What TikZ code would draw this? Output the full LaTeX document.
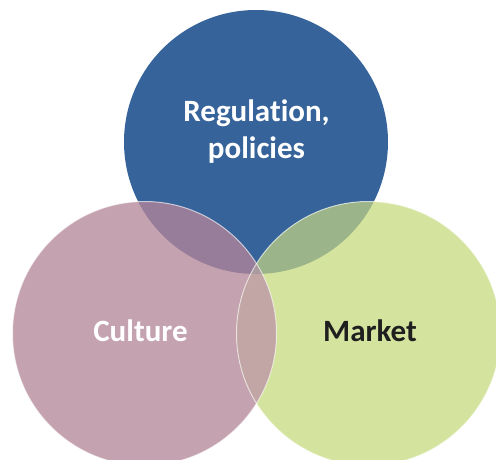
\documentclass[tikz,border=0pt]{standalone}
\usepackage{fontspec}
\setmainfont{Carlito}[Ligatures=NoCommon]
\usepackage{tikz}
\usetikzlibrary{calc}

\definecolor{regblue}{HTML}{35639A}
\definecolor{cultpink}{HTML}{C4A2AF}
\definecolor{markgreen}{HTML}{D4E49E}
\definecolor{bluepink}{HTML}{977D9A}
\definecolor{bluegreen}{HTML}{9CB48A}
\definecolor{pinkgreen}{HTML}{C2A6A6}
\definecolor{allthree}{HTML}{A99A9F}

\begin{document}
\begin{tikzpicture}[x=1pt,y=-1pt]

	\tikzstyle{rim}   = [draw=white, draw opacity=0.6, line width=1pt]
	\tikzstyle{label} = [font=\bfseries\fontsize{31}{37}\selectfont, align=center]
	\useasboundingbox (0,0) rectangle (496,460);

	\coordinate (creg)  at (256,142);
	\coordinate (ccult) at (144.5,333.5);
	\coordinate (cmark) at (368.5,333.5);
	\def\rad{132}

	% plain discs
	\fill [regblue]   (creg)  circle (\rad);
	\fill [cultpink]  (ccult) circle (\rad);
	\fill [markgreen] (cmark) circle (\rad);

	% overlaps
	\begin{scope}
		\clip (creg) circle (\rad);
		\fill [bluepink]  (ccult) circle (\rad);
		\fill [bluegreen] (cmark) circle (\rad);
	\end{scope}
	\begin{scope}
		\clip (ccult) circle (\rad);
		\fill [pinkgreen] (cmark) circle (\rad);
		\clip (creg) circle (\rad);
		\fill [allthree] (cmark) circle (\rad);
	\end{scope}

	% thin rims
	\draw [rim] (ccult) circle (\rad);
	\draw [rim] (cmark) circle (\rad);

	\node [label, text=white] (reg)  at (256.5,132) {Regulation,\\policies};
	\node [label, text=white] (cult) at (140.5,331) {Culture};
	\node [label, text=black!88] (mark) at (370,331) {Market};
\end{tikzpicture}
\end{document}
